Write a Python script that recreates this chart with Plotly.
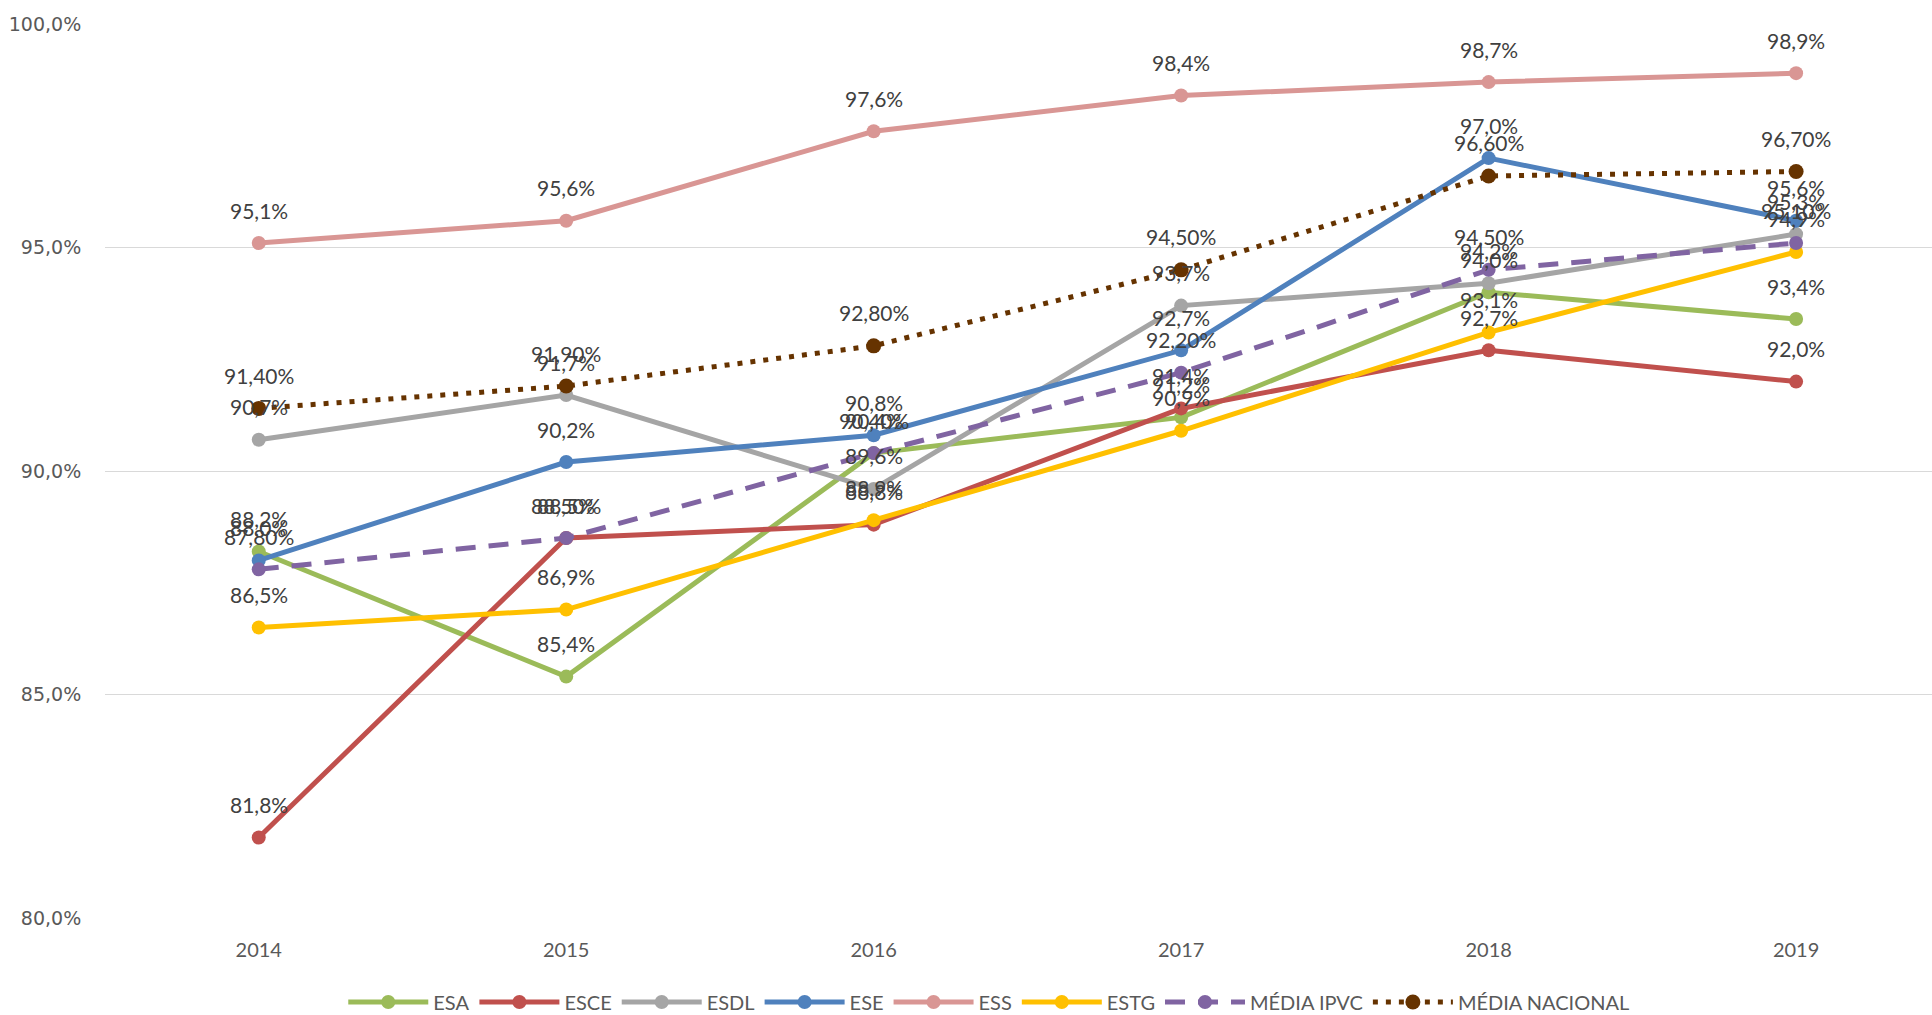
import plotly.graph_objects as go

years = ["2014", "2015", "2016", "2017", "2018", "2019"]

esa = [88.2, 85.4, 90.4, 91.2, 94.0, 93.4]
esce = [81.8, 88.5, 88.8, 91.4, 92.7, 92.0]
esdl = [90.7, 91.7, 89.6, 93.7, 94.2, 95.3]
ese = [88.0, 90.2, 90.8, 92.7, 97.0, 95.6]
ess = [95.1, 95.6, 97.6, 98.4, 98.7, 98.9]
estg = [86.5, 86.9, 88.9, 90.9, 93.1, 94.9]
media_ipvc = [87.80, 88.50, 90.40, 92.20, 94.50, 95.10]
media_nacional = [91.40, 91.90, 92.80, 94.50, 96.60, 96.70]

ytick_vals = [80, 85, 90, 95, 100]
ytick_text = ["80,0%", "85,0%", "90,0%", "95,0%", "100,0%"]

series = [
    ("ESA", esa, "#9BBB59", "solid", 1),
    ("ESCE", esce, "#C0504D", "solid", 1),
    ("ESDL", esdl, "#A5A5A5", "solid", 1),
    ("ESE", ese, "#4F81BD", "solid", 1),
    ("ESS", ess, "#D99694", "solid", 1),
    ("ESTG", estg, "#FFC000", "solid", 1),
    ("MÉDIA IPVC", media_ipvc, "#8064A2", "20px,13px", 2),
    ("MÉDIA NACIONAL", media_nacional, "#663300", "5px,8px", 2),
]

LABEL_FONT = "Lato, 'Open Sans', sans-serif"

fig = go.Figure()
xs = list(range(len(years)))
annotations = []
for name, vals, color, dash, dec in series:
    fig.add_trace(go.Scatter(
        x=xs, y=vals, name=name, mode="lines+markers",
        line=dict(color=color, width=5, dash=dash),
        marker=dict(color=color, size=14 if name != "MÉDIA NACIONAL" else 15,
                    symbol="circle"),
    ))
    for xi, v in zip(xs, vals):
        txt = f"{v:.{dec}f}".replace(".", ",") + "%"
        annotations.append(dict(
            x=xi, y=v, xref="x", yref="y", text=txt, showarrow=False,
            yshift=33, font=dict(family=LABEL_FONT, size=21, color="#404040"),
        ))

fig.update_layout(
    width=1932, height=1015,
    margin=dict(l=105, r=0, t=24, b=97, autoexpand=False),
    plot_bgcolor="white", paper_bgcolor="white",
    annotations=annotations,
    showlegend=True,
    legend=dict(
        orientation="h", x=0.484, xanchor="center", y=-0.094, yanchor="middle",
        font=dict(family=LABEL_FONT, size=20, color="#595959"),
        itemwidth=80, tracegroupgap=0,
    ),
    xaxis=dict(
        range=[-0.5, 5.442], tickvals=xs, ticktext=years,
        showgrid=False, zeroline=False, showline=False,
        tickfont=dict(family=LABEL_FONT, size=20, color="#595959"),
        ticks="outside", ticklen=14, tickcolor="white",
        fixedrange=True,
    ),
    yaxis=dict(
        range=[80, 100], tickvals=ytick_vals, ticktext=ytick_text,
        showgrid=True, gridcolor="#D9D9D9", gridwidth=1.3,
        zeroline=False, showline=False,
        tickfont=dict(family="'DejaVu Sans', sans-serif", size=19, color="#595959"),
        ticks="outside", ticklen=19, tickcolor="white",
    ),
)

fig.write_html("out.html")
